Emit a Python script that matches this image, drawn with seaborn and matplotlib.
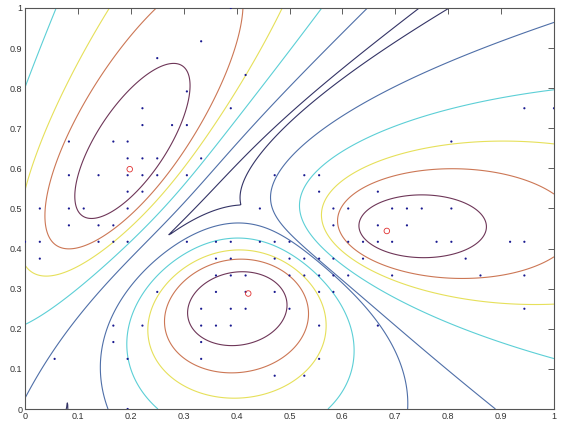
import numpy as np
import pandas as pd
import matplotlib
matplotlib.use("Agg")
import matplotlib.pyplot as plt
from matplotlib.ticker import FuncFormatter
import seaborn as sns

# data points, one list of x values per row (y value)
row_y = [1.0, 0.917, 0.875, 0.833, 0.792, 0.75, 0.708, 0.667, 0.625, 0.583, 0.542, 0.5,
         0.458, 0.417, 0.375, 0.333, 0.292, 0.25, 0.208, 0.167, 0.125, 0.083, 0.0]
row_x = [
    [0.389], [0.333], [0.25], [0.417], [0.306],
    [0.222, 0.389, 0.944, 1.0],
    [0.222, 0.278, 0.306],
    [0.083, 0.167, 0.194, 0.806],
    [0.194, 0.222, 0.25, 0.333],
    [0.083, 0.139, 0.194, 0.222, 0.25, 0.306, 0.472, 0.528, 0.556],
    [0.194, 0.222, 0.556, 0.667],
    [0.028, 0.083, 0.111, 0.194, 0.444, 0.583, 0.611, 0.694, 0.722, 0.75, 0.806],
    [0.083, 0.139, 0.167, 0.583, 0.667, 0.722],
    [0.0, 0.028, 0.139, 0.167, 0.194, 0.306, 0.361, 0.389, 0.444, 0.472, 0.5, 0.611,
     0.639, 0.667, 0.694, 0.778, 0.806, 0.917, 0.944],
    [0.028, 0.361, 0.389, 0.472, 0.5, 0.528, 0.556, 0.583, 0.639, 0.833],
    [0.361, 0.389, 0.417, 0.5, 0.528, 0.556, 0.583, 0.611, 0.694, 0.861, 0.944],
    [0.25, 0.361, 0.417, 0.472, 0.556, 0.583],
    [0.333, 0.389, 0.417, 0.5, 0.944],
    [0.167, 0.222, 0.333, 0.361, 0.389, 0.556, 0.667],
    [0.167, 0.333],
    [0.056, 0.194, 0.333, 0.556],
    [0.472, 0.528],
    [0.194],
]

# cluster centres (red circles)
centre_x = [0.198, 0.422, 0.684]
centre_y = [0.598, 0.288, 0.444]

# cluster shapes behind the contour field (inner ring size, ring growth)
comp_mx = [0.195, 0.405, 0.72]
comp_my = [0.63, 0.265, 0.45]
comp_angle = [65, 30, 0]
comp_a = [0.19, 0.10, 0.11]
comp_b = [0.068, 0.085, 0.074]
comp_decay = [0.9, 0.95, 0.8]
gamma = 0.85

levels = [-1.22, -1.02, -0.8, -0.58, -0.37, 0.0]
level_colors = ["#343466", "#4f6fa8", "#5ccfd6", "#e6e05a", "#cc7755", "#6e3658"]

pts = pd.DataFrame({
    "x": [x for xs in row_x for x in xs],
    "y": [y for y, xs in zip(row_y, row_x) for _ in xs],
})
centres = pd.DataFrame({"x": centre_x, "y": centre_y})


def dist(px, py, k):
    t = np.deg2rad(comp_angle[k])
    dx, dy = px - comp_mx[k], py - comp_my[k]
    u = dx * np.cos(t) + dy * np.sin(t)
    v = -dx * np.sin(t) + dy * np.cos(t)
    return np.sqrt((u / comp_a[k]) ** 2 + (v / comp_b[k]) ** 2) + 1e-9


def field(px, py):
    d = [dist(px, py, k) for k in range(3)]
    zs = []
    for k in range(3):
        others = [j for j in range(3) if j != k]
        m = sum(d[j] ** -2 for j in others) ** -0.5
        m0 = sum(dist(comp_mx[k], comp_my[k], j) ** -2 for j in others) ** -0.5
        zs.append(-comp_decay[k] * np.log(d[k]) + gamma * np.log(m / m0))
    return np.max(zs, axis=0)


gx, gy = np.meshgrid(np.linspace(0, 1, 401), np.linspace(0, 1, 401))
gz = field(gx, gy)

sns.set_style("white")
plt.rcParams["font.family"] = ["Liberation Sans", "DejaVu Sans"]

fig = plt.figure(figsize=(5.62, 4.23), dpi=100)
ax = fig.add_axes([25 / 562, 14 / 423, 529 / 562, 401 / 423])
ax.contour(gx, gy, gz, levels=levels, colors=level_colors, linewidths=0.8)
sns.scatterplot(data=pts, x="x", y="y", ax=ax, marker=".", s=10, color="#1a1a90",
                edgecolor="none", zorder=3)
sns.scatterplot(data=centres, x="x", y="y", ax=ax, marker="o", s=16,
                facecolor="none", edgecolor="#e03030", linewidth=0.6, zorder=4)

ax.set_xlim(0, 1)
ax.set_ylim(0, 1)
ticks = np.round(np.arange(0, 1.01, 0.1), 1)
ax.set_xticks(ticks)
ax.set_yticks(ticks)
fmt = FuncFormatter(lambda v, p: f"{v:g}")
ax.xaxis.set_major_formatter(fmt)
ax.yaxis.set_major_formatter(fmt)
ax.tick_params(direction="in", length=4, width=0.6, top=True, right=True,
               labelsize=6.5, labelcolor="#333333", color="#444444", pad=2)
for s in ax.spines.values():
    s.set_color("#555555")
    s.set_linewidth(0.8)
ax.set_xlabel("")
ax.set_ylabel("")
fig.savefig("out.png", dpi=100)
